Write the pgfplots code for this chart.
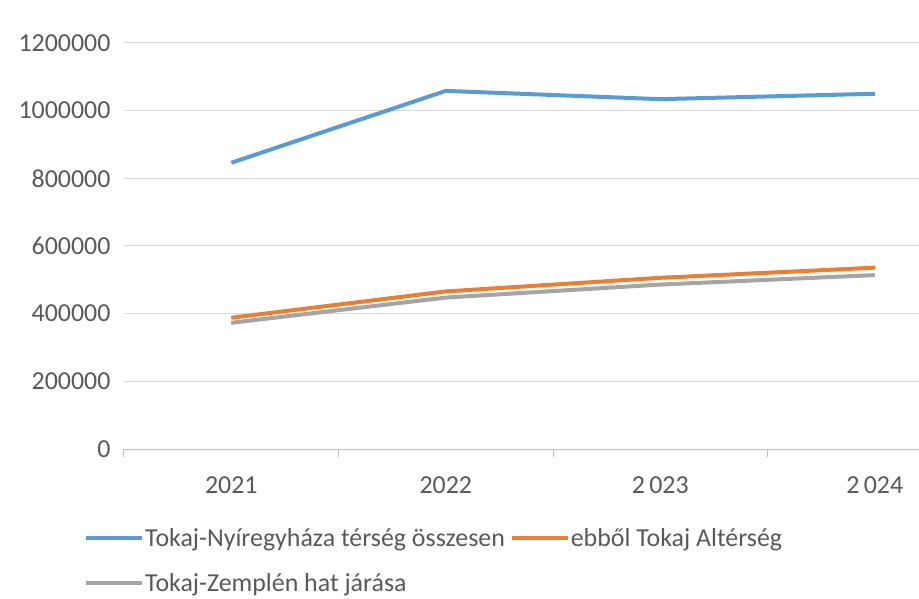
\documentclass[border=0pt]{standalone}
\usepackage{fontspec}
\setmainfont{Carlito}
\usepackage{pgfplots}
\pgfplotsset{compat=1.18}
\definecolor{sblue}{HTML}{5B9BD5}
\definecolor{sorange}{HTML}{ED7D31}
\definecolor{sgray}{HTML}{A5A5A5}
\definecolor{gridgray}{HTML}{D9D9D9}
\definecolor{axisgray}{HTML}{BFBFBF}
\definecolor{labgray}{HTML}{595959}
\begin{document}
\begin{tikzpicture}
\begin{axis}[
  scale only axis, width=795bp, height=406bp,
  xmin=-0.5, xmax=3.206, ymin=0, ymax=1200000,
  axis x line*=bottom, axis y line*=left,
  x axis line style={draw=axisgray, line width=1bp, -},
  y axis line style={draw=none},
  xtick={0,1,2,3}, xticklabels={2021,2022,2\,023,2\,024},
  minor xtick={-0.5,0.5,1.5,2.5},
  ytick={0,200000,400000,600000,800000,1000000,1200000},
  scaled y ticks=false,
  yticklabel style={/pgf/number format/fixed, /pgf/number format/1000 sep={}, xshift=-10bp},
  /pgf/number format/assume math mode=true,
  ticklabel style={font=\fontsize{26}{30}\selectfont, text=labgray},
  xticklabel style={yshift=-24bp},
  major tick length=0pt,
  minor tick length=8bp,
  tick align=outside,
  minor tick style={draw=axisgray, line width=1bp},
  ymajorgrids, grid style={draw=gridgray, line width=1bp},
  legend columns=2,
  legend cell align=left,
  legend style={draw=none, fill=none, inner sep=0pt,
    font=\fontsize{26}{30}\selectfont, text=labgray,
    at={(axis description cs:0,0)}, anchor=north west,
    xshift=-40bp, yshift=-78bp,
    nodes={inner sep=1bp},
    /tikz/every even column/.append style={column sep=4bp},
    row sep=24bp},
  legend image code/.code={\draw[#1, line width=4bp] (0bp,0bp) -- (56bp,0bp);},
  clip=false,
]
\addplot[sblue, line width=4bp] coordinates {(0,846000) (1,1058500) (2,1034000) (3,1050000)};
\addlegendentry{Tokaj-Nyíregyháza térség összesen}
\addplot[sorange, line width=4bp] coordinates {(0,388000) (1,465700) (2,506000) (3,536000)};
\addlegendentry{ebből Tokaj Altérség}
\addplot[sgray, line width=4bp] coordinates {(0,373000) (1,447500) (2,486000) (3,514000)};
\addlegendentry{Tokaj-Zemplén hat járása}
\end{axis}
\pgfresetboundingbox
\useasboundingbox (-124bp,-150bp) rectangle (795bp,449bp);
\end{tikzpicture}
\end{document}
